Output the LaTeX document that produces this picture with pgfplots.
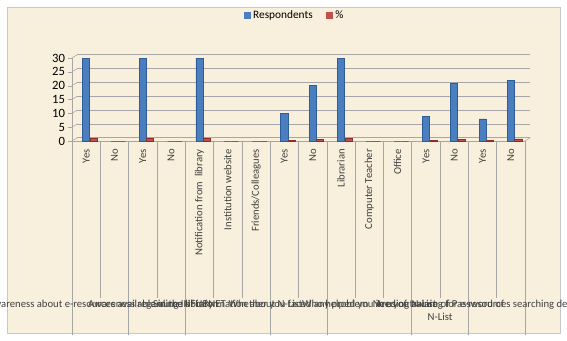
\documentclass[border=0pt]{standalone}
\usepackage{pgfplots}
\pgfplotsset{compat=1.18}
\usepackage{fontspec}
\setmainfont{Carlito}
\definecolor{bg}{HTML}{F8F0DC}
\definecolor{framec}{HTML}{C8C8C8}
\definecolor{blu}{HTML}{4A7EBF}
\definecolor{bluD}{HTML}{2E5C96}
\definecolor{rd}{HTML}{C0504D}
\definecolor{rdD}{HTML}{8E2E2B}
\definecolor{gridc}{HTML}{A6A6A6}
\definecolor{txt}{HTML}{404040}
\begin{document}
\begin{tikzpicture}
\path[use as bounding box] (0,0) rectangle (425.25pt,255pt);
\fill[white] (0,0) rectangle (425.25pt,255pt);
\draw[framec, fill=bg] (5.25pt,5.25pt) rectangle (420pt,249.75pt);
\begin{axis}[
  at={(54pt,149.25pt)}, anchor=south west,
  scale only axis, width=339.75pt, height=62.25pt,
  xmin=-0.5, xmax=15.5, ymin=0, ymax=30,
  ytick={0,5,...,30},
  xtick={0,...,15},
  xticklabels={Yes,No,Yes,No,Notification from~~library,Institution website,Friends/Colleagues,Yes,No,Librarian,Computer Teacher,Office,Yes,No,Yes,No},
  xticklabel style={rotate=90, anchor=east, font=\fontsize{8}{9}\selectfont, text=txt, inner sep=3pt},
  yticklabel style={font=\fontsize{9.5}{10}\selectfont, text=black, inner sep=2pt},
  /pgf/number format/assume math mode=true,
  axis lines*=left,
  axis line style={gridc,-},
  xtick style={draw=none},
  ytick style={gridc},
  major tick length=3pt,
  tick align=outside,
  ymajorgrids,
  major grid style={gridc, shift={(4pt,2.5pt)}},
  clip=false,
  legend style={at={(0.5,1)}, anchor=south, xshift=-2.6pt, yshift=24pt, draw=none, fill=none,
    legend columns=2, font=\fontsize{8.5}{10}\selectfont,
    /tikz/every even column/.append style={column sep=8pt}},
  legend image code/.code={\fill[#1] (0pt,-2.5pt) rectangle (5pt,2.5pt);},
]
\addlegendimage{fill=blu, draw=none}\addlegendentry{Respondents}
\addlegendimage{fill=rd, draw=none}\addlegendentry{\%}

\pgfplotsinvokeforeach{0,5,...,30}{\draw[gridc] (axis cs:-0.5,#1) -- ++(4pt,2.5pt);}
\draw[gridc] (axis cs:15.5,0) -- ++(4pt,2.5pt);

\addplot[ybar, bar width=5.3pt, bar shift=0pt, draw=bluD, line width=0.5pt, fill=blu, forget plot]
  coordinates {(0,30) (1,0) (2,30) (3,0) (4,30) (5,0) (6,0) (7,10) (8,20) (9,30) (10,0) (11,0) (12,9) (13,21) (14,8) (15,22)};
\addplot[ybar, bar width=5.3pt, bar shift=5.6pt, draw=rdD, line width=0.5pt, fill=rd, forget plot]
  coordinates {(0,1) (1,0) (2,1) (3,0) (4,1) (5,0) (6,0) (7,0.33) (8,0.67) (9,1) (10,0) (11,0) (12,0.3) (13,0.7) (14,0.27) (15,0.73)};

\pgfplotsinvokeforeach{0.5,2.5,4.5,5.5,7.5,9.5,10.5,12.5,14.5}{\draw[gridc] (axis cs:#1,0) -- ++(0pt,-117.75pt);}
\pgfplotsinvokeforeach{-0.5,1.5,3.5,6.5,8.5,11.5,13.5,15.5}{\draw[gridc] (axis cs:#1,0) -- ++(0pt,-145.5pt);}

\begin{scope}[every node/.style={font=\fontsize{8}{9.5}\selectfont, text=txt, anchor=north, inner sep=0pt}]
\node at (axis cs:0.5,0)  [yshift=-119pt] {Awareness about e-resources available in the library};
\node at (axis cs:2.5,0)  [yshift=-119pt] {Awareness regarding INFLIBNET};
\node at (axis cs:5,0)    [yshift=-119pt] {Source of information about N-List};
\node at (axis cs:7.5,0)  [yshift=-119pt] {Whether you faced any problem};
\node at (axis cs:10,0)   [yshift=-119pt] {Who helped you in using N-List};
\node at (axis cs:12.5,0) [yshift=-119pt, align=center] {Are you aware of Password of\\N-List};
\node at (axis cs:14.5,0) [yshift=-119pt] {Need of training for e-resources searching demonstration};
\end{scope}
\end{axis}
\end{tikzpicture}
\end{document}
